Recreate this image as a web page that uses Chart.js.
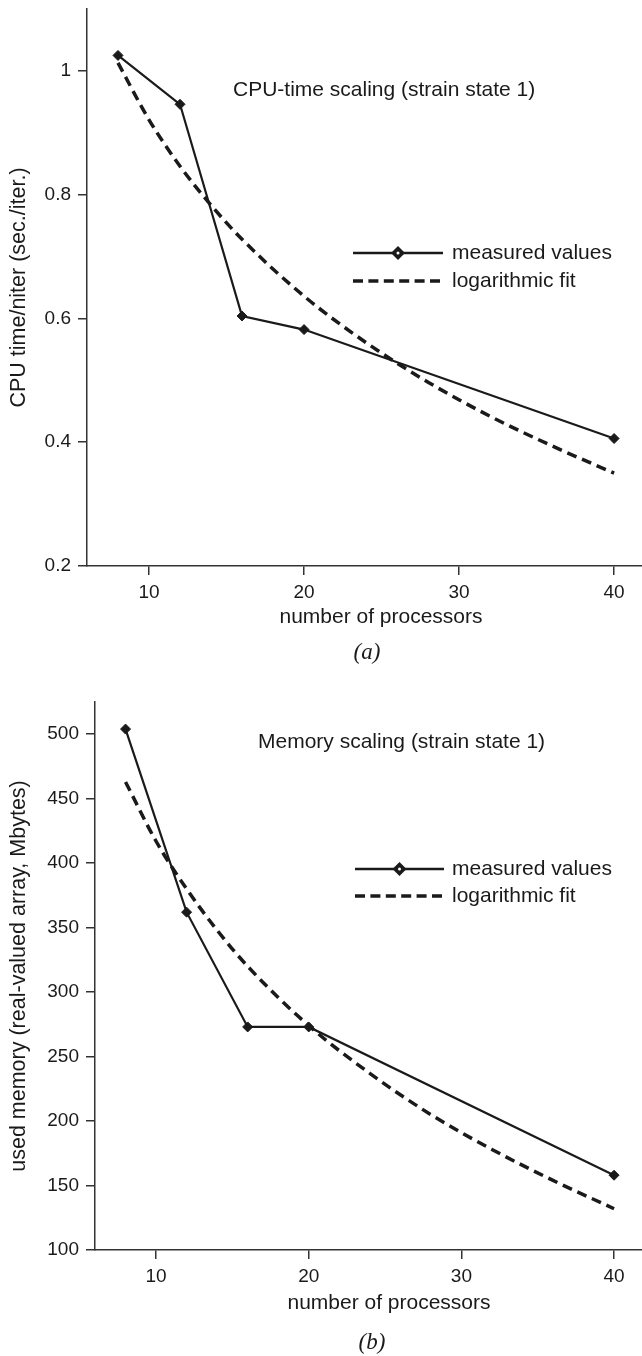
<!DOCTYPE html>
<html>
<head>
<meta charset="utf-8">
<script src="https://cdn.jsdelivr.net/npm/chart.js"></script>
<style>
  body { margin: 0; background: #fff; width: 642px; height: 1356px; position: relative; overflow: hidden; }
  .box { position: absolute; left: 0; width: 642px; }
</style>
</head>
<body>
<div class="box" style="top:0;height:672px"><canvas id="cpuChart" width="642" height="672"></canvas></div>
<div class="box" style="top:660px;height:696px"><canvas id="memChart" width="642" height="696"></canvas></div>
<script>
// measured points
var procs = [8, 12, 16, 20, 40];
var cpuMeasured = [1.025, 0.946, 0.604, 0.582, 0.406];
var memMeasured = [504, 362, 273, 273, 158];

// fit curves
var fitProcs = [8, 10, 12, 14, 16, 20, 24, 28, 32, 36, 40];
var cpuFit = [1.013, 0.921, 0.846, 0.783, 0.728, 0.636, 0.561, 0.497, 0.442, 0.394, 0.35];
var memFit = [463, 417, 380, 348, 320, 274, 237, 205, 178, 154, 132];

// tick labels
var xTicks = [10, 20, 30, 40];
var cpuTicks = [0.2, 0.4, 0.6, 0.8, 1];
var memTicks = [100, 150, 200, 250, 300, 350, 400, 450, 500];

var FONT = "'Liberation Sans', Arial, Helvetica, sans-serif";
var INK = "#1a1a1a";

function pairs(xs, ys) {
  return xs.map(function (x, i) { return { x: x, y: ys[i] }; });
}

// draws the in-plot title, legend, x title and panel label
var annotPlugin = {
  id: "annot",
  afterDraw: function (chart, args, o) {
    var ctx = chart.ctx;
    ctx.save();
    ctx.fillStyle = INK;
    ctx.strokeStyle = INK;
    ctx.textBaseline = "middle";
    ctx.font = "21px " + FONT;

    ctx.textAlign = "left";
    ctx.fillText(o.title, o.titleX, o.titleY);

    // legend: solid with marker
    ctx.lineWidth = 2.5;
    ctx.setLineDash([]);
    ctx.beginPath();
    ctx.moveTo(o.legX0, o.legY1);
    ctx.lineTo(o.legX1, o.legY1);
    ctx.stroke();
    var mx = (o.legX0 + o.legX1) / 2;
    ctx.beginPath();
    ctx.moveTo(mx, o.legY1 - 7);
    ctx.lineTo(mx + 7, o.legY1);
    ctx.lineTo(mx, o.legY1 + 7);
    ctx.lineTo(mx - 7, o.legY1);
    ctx.closePath();
    ctx.fill();
    ctx.fillStyle = "#fff";
    ctx.beginPath();
    ctx.arc(mx, o.legY1, 1.5, 0, Math.PI * 2);
    ctx.fill();
    ctx.fillStyle = INK;

    // legend: dashed
    ctx.lineWidth = 3.5;
    ctx.setLineDash([10, 5.4]);
    ctx.beginPath();
    ctx.moveTo(o.legX0, o.legY2);
    ctx.lineTo(o.legX1, o.legY2);
    ctx.stroke();
    ctx.setLineDash([]);

    ctx.fillText("measured values", o.legTextX, o.legY1);
    ctx.fillText("logarithmic fit", o.legTextX, o.legY2);

    ctx.textAlign = "center";
    ctx.fillText("number of processors", o.xTitleX, o.xTitleY);

    ctx.font = "italic 23px 'Liberation Serif', 'Times New Roman', serif";
    ctx.fillText(o.panel, o.panelX, o.panelY);
    ctx.restore();
  }
};

function makeChart(id, cfg) {
  return new Chart(id, {
    type: "line",
    data: {
      datasets: [
        {
          label: "measured values",
          data: pairs(procs, cfg.measured),
          borderColor: INK,
          borderWidth: 2.2,
          pointStyle: "rectRot",
          pointRadius: 5,
          pointBackgroundColor: INK,
          pointBorderColor: INK,
          pointBorderWidth: 1
        },
        {
          label: "logarithmic fit",
          data: pairs(fitProcs, cfg.fit),
          borderColor: INK,
          borderWidth: 3.5,
          borderDash: [10, 6],
          pointRadius: 0,
          cubicInterpolationMode: "monotone"
        }
      ]
    },
    options: {
      responsive: false,
      animation: false,
      layout: { autoPadding: false, padding: { top: cfg.top, right: 0, bottom: 0, left: 0 } },
      plugins: {
        legend: { display: false },
        tooltip: { enabled: false },
        annot: cfg.annot
      },
      scales: {
        x: {
          type: "linear",
          min: 6,
          max: cfg.xMax,
          afterBuildTicks: function (s) { s.ticks = xTicks.map(function (v) { return { value: v }; }); },
          afterFit: function (s) {
            s.height = cfg.xHeight;
            s.paddingLeft = 0;
            s.paddingRight = 0;
          },
          grid: { drawOnChartArea: false, drawTicks: true, tickLength: 9, color: "#333", lineWidth: 1.5 },
          border: { display: true, color: "#333", width: 1.5 },
          ticks: { color: INK, font: { family: FONT, size: 19 }, padding: 6, maxRotation: 0 }
        },
        y: {
          min: cfg.yMin,
          max: cfg.yMax,
          afterBuildTicks: function (s) { s.ticks = cfg.yTicks.map(function (v) { return { value: v }; }); },
          afterFit: function (s) {
            s.width = cfg.yWidth;
            s.paddingTop = 0;
            s.paddingBottom = 0;
          },
          grid: { drawOnChartArea: false, drawTicks: true, tickLength: 9, color: "#333", lineWidth: 1.5 },
          border: { display: true, color: "#333", width: 1.5 },
          ticks: {
            color: INK,
            font: { family: FONT, size: 19 },
            padding: 7,
            callback: function (v) { return String(v); }
          },
          title: {
            display: true,
            text: cfg.yTitle,
            color: INK,
            font: { family: FONT, size: 21.5 },
            padding: { top: 6, bottom: 0 }
          }
        }
      }
    },
    plugins: [annotPlugin]
  });
}

makeChart("cpuChart", {
  measured: cpuMeasured,
  fit: cpuFit,
  yMin: 0.2,
  yMax: 1.1,
  yTicks: cpuTicks,
  yTitle: "CPU time/niter (sec./iter.)",
  xMax: 41.8,
  top: 9,
  xHeight: 106,
  yWidth: 87,
  annot: {
    title: "CPU-time scaling (strain state 1)", titleX: 233, titleY: 90,
    legX0: 353, legX1: 443, legY1: 253, legY2: 281, legTextX: 452,
    xTitleX: 381, xTitleY: 617,
    panel: "(a)", panelX: 367, panelY: 653
  }
});

makeChart("memChart", {
  measured: memMeasured,
  fit: memFit,
  yMin: 100,
  yMax: 525,
  yTicks: memTicks,
  yTitle: "used memory (real-valued array, Mbytes)",
  xMax: 41.83,
  top: 42,
  xHeight: 106,
  yWidth: 95,
  annot: {
    title: "Memory scaling (strain state 1)", titleX: 258, titleY: 82,
    legX0: 355, legX1: 444, legY1: 209, legY2: 236, legTextX: 452,
    xTitleX: 389, xTitleY: 643,
    panel: "(b)", panelX: 372, panelY: 683
  }
});
</script>
</body>
</html>
